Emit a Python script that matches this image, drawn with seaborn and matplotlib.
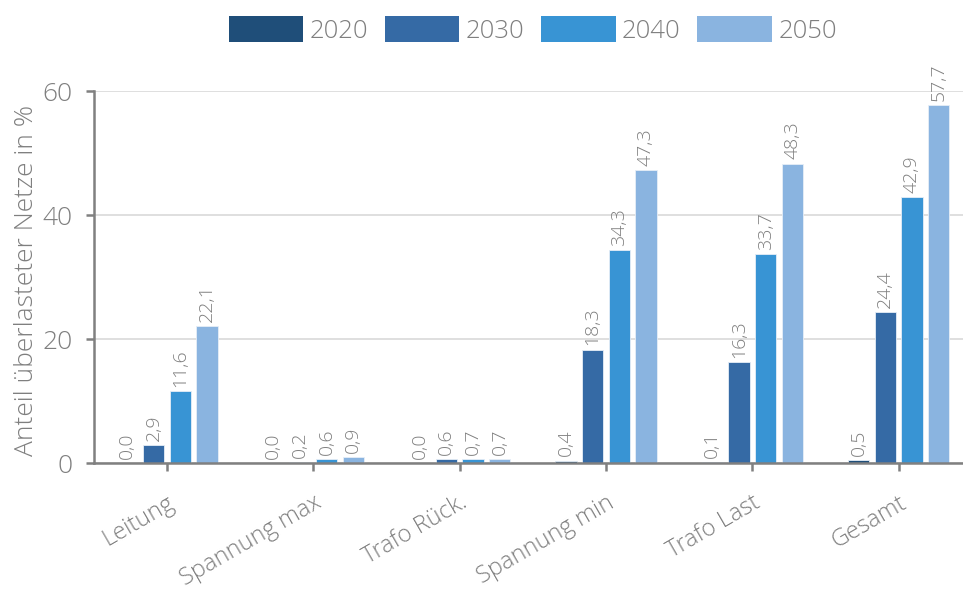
import matplotlib
matplotlib.use("Agg")
import matplotlib.pyplot as plt
import seaborn as sns
import pandas as pd

categories = ["Leitung", "Spannung max", "Trafo Rück.", "Spannung min", "Trafo Last", "Gesamt"]
years = ["2020", "2030", "2040", "2050"]
values_2020 = [0.0, 0.0, 0.0, 0.4, 0.1, 0.5]
values_2030 = [2.9, 0.2, 0.6, 18.3, 16.3, 24.4]
values_2040 = [11.6, 0.6, 0.7, 34.3, 33.7, 42.9]
values_2050 = [22.1, 0.9, 0.7, 47.3, 48.3, 57.7]
y_ticks = [0, 20, 40, 60]
colors = ["#1f4e79", "#356aa5", "#3894d4", "#8ab4e0"]

series = {"2020": values_2020, "2030": values_2030, "2040": values_2040, "2050": values_2050}
df = pd.DataFrame(
    [(cat, yr, vals[i]) for yr, vals in series.items() for i, cat in enumerate(categories)],
    columns=["Kategorie", "Jahr", "Wert"],
)

sns.set_theme(style="white")
plt.rcParams["font.family"] = ["Open Sans", "DejaVu Sans"]
grey = "#7f7f7f"

fig = plt.figure(figsize=(9.63, 5.93), dpi=100)
ax = fig.add_axes([0.0974, 0.2192, 0.9118, 0.6273])

sns.barplot(
    data=df, x="Kategorie", y="Wert", hue="Jahr", order=categories, hue_order=years,
    palette=colors, saturation=1, width=0.73, gap=0.2, ax=ax,
    edgecolor="#e6eef7", linewidth=0.6, legend=True,
)

fmt = lambda v: f"{v:.1f}".replace(".", ",")
for cont in ax.containers:
    labels = ax.bar_label(cont, fmt=fmt, rotation=90, padding=3, fontsize=14,
                          color=grey, fontweight="light")
    for t in labels:
        t.set_clip_on(False)

ax.set_ylim(0, 60)
ax.set_xlim(-0.5, 5.5)
ax.set_yticks(y_ticks)
ax.set_yticklabels([str(v) for v in y_ticks], fontsize=19, color=grey, fontweight="light")
ax.set_xticks(range(len(categories)))
ax.set_xticklabels(categories, rotation=30, ha="right", rotation_mode="anchor",
                   fontsize=17, color=grey, fontweight="light")
ax.set_xlabel("")
ax.set_ylabel("Anteil überlasteter Netze in %", fontsize=19, color=grey,
              fontweight="light")
ax.yaxis.set_label_coords(-0.062, 0.49)

ax.yaxis.grid(True, color="#d9d9d9", linewidth=1.2)
ax.set_axisbelow(True)
for side in ["top", "right"]:
    ax.spines[side].set_visible(False)
for side in ["left", "bottom"]:
    ax.spines[side].set_color("#808080")
    ax.spines[side].set_linewidth(1.8)
ax.tick_params(axis="both", which="both", length=6, width=1.8, color="#808080",
               left=True, bottom=True, direction="out")
ax.tick_params(axis="y", pad=9)
ax.tick_params(axis="x", pad=14)

leg = ax.legend(
    loc="lower center", bbox_to_anchor=(0.5, 1.1), ncol=4, frameon=False,
    fontsize=18.5, handlelength=2.9, handleheight=1.15, handletextpad=0.25,
    columnspacing=0.65, borderaxespad=0,
)
for t in leg.get_texts():
    t.set_color(grey)
    t.set_fontweight("light")
for h in leg.legend_handles:
    h.set_edgecolor("none")

fig.savefig("out.png", dpi=100)
